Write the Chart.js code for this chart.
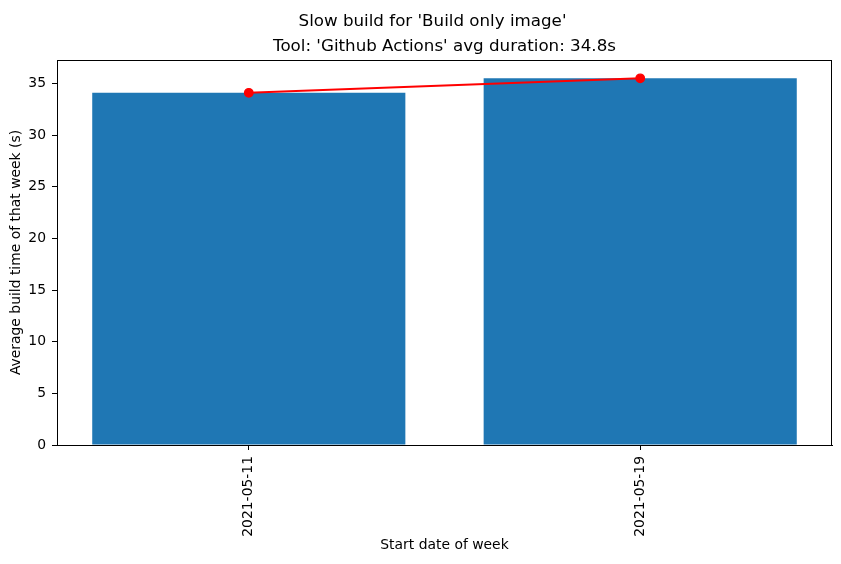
<!DOCTYPE html>
<html>
<head>
<meta charset="utf-8">
<script src="https://cdn.jsdelivr.net/npm/chart.js@4.4.1/dist/chart.umd.min.js"></script>
<style>
  html, body { margin: 0; padding: 0; background: #fff; }
  #wrap { width: 841px; height: 564px; position: relative; }
</style>
</head>
<body>
<div id="wrap"><canvas id="buildChart"></canvas></div>
<script>
// chart data
const weeks = ['2021-05-11', '2021-05-19'];
const avgBuildTime = [34.1, 35.5];
const yTicks = [0, 5, 10, 15, 20, 25, 30, 35];
const yMax = 37.275;
const xMin = -0.49, xMax = 1.49;

const supTitle = "Slow build for 'Build only image'";
const axTitle = "Tool: 'Github Actions' avg duration: 34.8s";
const FONT = "'DejaVu Sans', sans-serif";

const points = avgBuildTime.map((v, i) => ({ x: i, y: v }));

// titles + top/right spines, matplotlib style
const figDecor = {
    id: 'figDecor',
    afterDraw(chart) {
        const { ctx, chartArea } = chart;
        ctx.save();
        ctx.strokeStyle = '#000';
        ctx.lineWidth = 1;
        ctx.strokeRect(chartArea.left + 0.5, chartArea.top + 0.5,
            chartArea.right - chartArea.left - 1, chartArea.bottom - chartArea.top);
        ctx.fillStyle = '#000';
        ctx.textAlign = 'center';
        ctx.textBaseline = 'alphabetic';
        ctx.font = '16.7px ' + FONT;
        ctx.fillText(supTitle, 432.5, 26);
        ctx.fillText(axTitle, (chartArea.left + chartArea.right) / 2, 51);
        ctx.restore();
    }
};

const ctx = document.getElementById('buildChart').getContext('2d');
new Chart(ctx, {
    data: {
        datasets: [{
            type: 'line',
            data: points,
            borderColor: '#ff0000',
            backgroundColor: '#ff0000',
            borderWidth: 2,
            pointRadius: 4.2,
            pointHoverRadius: 4.2,
            pointBackgroundColor: '#ff0000',
            pointBorderColor: '#ff0000',
            pointBorderWidth: 1.4,
            tension: 0
        }, {
            type: 'bar',
            data: points,
            backgroundColor: '#1f77b4',
            borderWidth: 0,
            barPercentage: 0.8,
            categoryPercentage: 1.0
        }]
    },
    options: {
        responsive: true,
        maintainAspectRatio: false,
        animation: false,
        layout: { padding: { top: 60, right: 9, left: 0, bottom: 0 } },
        plugins: {
            legend: { display: false },
            tooltip: { enabled: false }
        },
        scales: {
            x: {
                type: 'linear',
                min: xMin,
                max: xMax,
                offset: false,
                afterFit: s => { s.height = 119; },
                afterBuildTicks: s => { s.ticks = weeks.map((w, i) => ({ value: i })); },
                grid: { drawOnChartArea: false, drawTicks: true, tickLength: 5, tickColor: '#000', offset: false },
                border: { display: true, color: '#000', width: 1 },
                ticks: {
                    color: '#000',
                    font: { family: FONT, size: 13.9 },
                    minRotation: 90,
                    maxRotation: 90,
                    padding: 6,
                    autoSkip: false,
                    callback: v => weeks[v]
                },
                title: {
                    display: true,
                    text: 'Start date of week',
                    color: '#000',
                    font: { family: FONT, size: 13.9 },
                    padding: { top: 4, bottom: 10 }
                }
            },
            y: {
                min: 0,
                max: yMax,
                afterFit: s => { s.width = 57; },
                afterBuildTicks: s => { s.ticks = yTicks.map(v => ({ value: v })); },
                grid: { drawOnChartArea: false, drawTicks: true, tickLength: 5, tickColor: '#000' },
                border: { display: true, color: '#000', width: 1 },
                ticks: {
                    color: '#000',
                    font: { family: FONT, size: 13.9 },
                    padding: 6
                },
                title: {
                    display: true,
                    text: 'Average build time of that week (s)',
                    color: '#000',
                    font: { family: FONT, size: 13.9 },
                    padding: { top: 8, bottom: 4 }
                }
            }
        }
    },
    plugins: [figDecor]
});
</script>
</body>
</html>
